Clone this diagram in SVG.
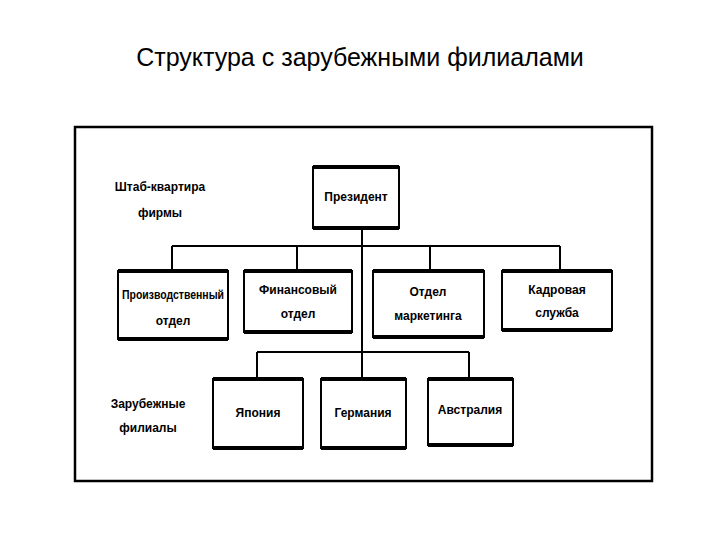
<svg xmlns="http://www.w3.org/2000/svg" width="720" height="540" viewBox="0 0 720 540">
<style>
.b{fill:#fff;stroke:#000;stroke-width:2}
.e{stroke:#000;stroke-width:4}
.t{font-family:"Liberation Sans",Arial,sans-serif;font-size:12px;font-weight:bold;text-anchor:middle;fill:#000}
.c{stroke:#000;stroke-width:2;fill:none}
</style>
<rect width="720" height="540" fill="#fff"/>
<text x="360" y="66" font-family="Liberation Sans,Arial,sans-serif" font-size="25" text-anchor="middle">Структура с зарубежными филиалами</text>
<rect x="75" y="127" width="577" height="354" fill="none" stroke="#000" stroke-width="2.5"/>
<g id="connectors">
<path class="c" d="M362 229V378M172 246H560M172 246V270M297 246V270M430 246V270M560 246V270M257 352H469M257 352V378M469 352V378"/>
</g>
<g id="lbl1"><text class="t" x="160" y="191">Штаб-квартира</text><text class="t" x="160" y="217">фирмы</text></g>
<g id="lbl2"><text class="t" x="148" y="408">Зарубежные</text><text class="t" x="148" y="432">филиалы</text></g>
<g id="president"><rect class="b" x="313" y="167" width="86" height="61"/><path class="e" d="M313 167H399M313 228H399"/><text class="t" x="356" y="201">Президент</text></g>
<g id="prod"><rect class="b" x="118" y="271" width="110" height="68"/><path class="e" d="M118 271H228M118 339H228"/><text class="t" x="173" y="299" textLength="102" lengthAdjust="spacingAndGlyphs">Производственный</text><text class="t" x="173" y="325">отдел</text></g>
<g id="fin"><rect class="b" x="244" y="271" width="108" height="61"/><path class="e" d="M244 271H352M244 332H352"/><text class="t" x="298" y="294">Финансовый</text><text class="t" x="298" y="318">отдел</text></g>
<g id="mkt"><rect class="b" x="373" y="271" width="111" height="66"/><path class="e" d="M373 271H484M373 337H484"/><text class="t" x="428" y="296">Отдел</text><text class="t" x="428" y="320">маркетинга</text></g>
<g id="hr"><rect class="b" x="502" y="271" width="110" height="59"/><path class="e" d="M502 271H612M502 330H612"/><text class="t" x="557" y="294">Кадровая</text><text class="t" x="557" y="317">служба</text></g>
<g id="japan"><rect class="b" x="213" y="379" width="90" height="69"/><path class="e" d="M213 379H303M213 448H303"/><text class="t" x="258" y="417">Япония</text></g>
<g id="germany"><rect class="b" x="321" y="379" width="85" height="69"/><path class="e" d="M321 379H406M321 448H406"/><text class="t" x="363" y="417">Германия</text></g>
<g id="australia"><rect class="b" x="428" y="379" width="85" height="66"/><path class="e" d="M428 379H513M428 445H513"/><text class="t" x="470" y="414">Австралия</text></g>
</svg>
